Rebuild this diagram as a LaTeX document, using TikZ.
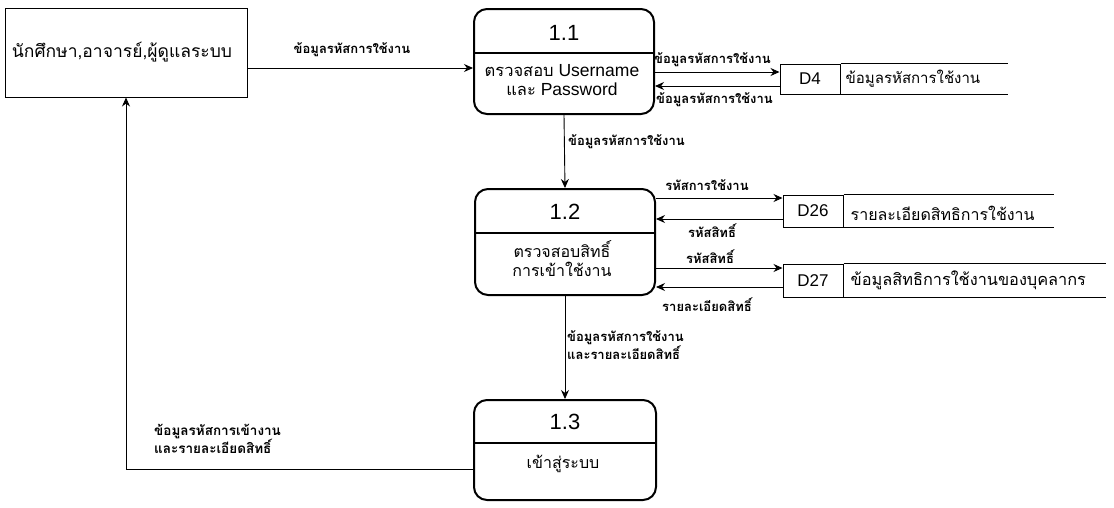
\documentclass[tikz,border=0pt]{standalone}
\usepackage{fontspec}
\setmainfont{Liberation Sans}
\newfontfamily\thaif[Script=Thai]{Loma}
\usetikzlibrary{arrows.meta,calc}
\begin{document}
\begin{tikzpicture}[x=1pt,y=-1pt,
  proc/.style={draw,line width=2pt,rounded corners=13pt,inner sep=0pt},
  ent/.style={draw,line width=1pt,inner sep=0pt},
  sid/.style={draw,line width=1pt,inner sep=0pt,font=\fontsize{17}{17}\selectfont},
  flow/.style={line width=0.9pt,-{Stealth[length=9pt,width=8pt]}},
  lbl/.style={font=\thaif\bfseries\fontsize{13}{14}\selectfont,inner sep=1pt},
  ptitle/.style={font=\fontsize{22}{22}\selectfont,inner sep=0pt},
  ptext/.style={font=\fontsize{17.5}{19}\selectfont,align=center,inner sep=0pt},
  stext/.style={font=\thaif\fontsize{16}{16}\selectfont,anchor=west,inner sep=0pt}]
\useasboundingbox (0,0) rectangle (1114,507);

% external entity
\node[ent,minimum width=242pt,minimum height=89pt] (ent) at (126,52.5) {};
\node[font=\thaif\fontsize{17.5}{17.5}\selectfont] (entt) at (122,52) {นักศึกษา,อาจารย์,ผู้ดูแลระบบ};

% processes
\node[proc,minimum width=180pt,minimum height=105pt] (p1) at (564,61.5) {};
\draw[line width=1.8pt] (p1.west |- 0,53) coordinate (p1l) -- (p1.east |- 0,53) coordinate (p1r);
\node[ptitle] (p1t) at (564,33) {1.1};
\node[ptext] (p1x) at (562,80) {{\thaif\fontsize{16.5}{19}\selectfont ตรวจสอบ} Username\\{\thaif\fontsize{16.5}{19}\selectfont และ} Password};

\node[proc,minimum width=180pt,minimum height=106pt] (p2) at (565,242) {};
\draw[line width=1.8pt] (p2.west |- 0,233) coordinate (p2l) -- (p2.east |- 0,233) coordinate (p2r);
\node[ptitle] (p2t) at (565,212) {1.2};
\node[ptext] (p2x) at (562,259) {\thaif\fontsize{16}{21}\selectfont ตรวจสอบสิทธิ์\\\thaif\fontsize{16}{21}\selectfont การเข้าใช้งาน};

\node[proc,minimum width=182pt,minimum height=100pt] (p3) at (565,450) {};
\draw[line width=1.8pt] (p3.west |- 0,443) coordinate (p3l) -- (p3.east |- 0,443) coordinate (p3r);
\node[ptitle] (p3t) at (565,422) {1.3};
\node[ptext] (p3x) at (563,464) {\thaif\fontsize{16}{19}\selectfont เข้าสู่ระบบ};

% data stores
\node[sid,minimum width=60pt,minimum height=30pt] (s4) at (810,79) {D4};
\draw[line width=1pt] (s4.north east) -- ++(167,0) coordinate (s4e1);
\draw[line width=1pt] (s4.south east) -- ++(167,0) coordinate (s4e2);
\node[stext,font=\thaif\fontsize{15}{15}\selectfont] (s4t) at ($(s4.east)+(5pt,0)$) {ข้อมูลรหัสการใช้งาน};

\node[sid,minimum width=60pt,minimum height=32pt] (s26) at (813,211) {D26};
\draw[line width=1pt] (s26.north east) -- ++(210,0) coordinate (s26e1);
\draw[line width=1pt] (s26.south east) -- ++(210,0) coordinate (s26e2);
\node[stext] (s26t) at ($(s26.east)+(7pt,-2pt)$) {รายละเอียดสิทธิการใช้งาน};

\node[sid,minimum width=60pt,minimum height=33pt] (s27) at (813,280.5) {D27};
\draw[line width=1pt] (s27.north east) -- ++(262,0) coordinate (s27e1);
\draw[line width=1pt] (s27.south east) -- ++(262,0) coordinate (s27e2);
\node[stext,font=\thaif\fontsize{16.3}{16}\selectfont] (s27t) at ($(s27.east)+(7pt,0)$) {ข้อมูลสิทธิการใช้งานของบุคลากร};

% flows
\draw[flow] ($(ent.east)+(0,-15.5pt)$) -- ($(p1.west)+(0,-6.5pt)$);
\node[lbl] (l1) at (352,50) {ข้อมูลรหัสการใช้งาน};

\draw[flow] ($(p1.east |- s4.west)+(0,7pt)$) -- ($(s4.west)+(0,7pt)$);
\node[lbl,anchor=west] (l2) at (653,60) {ข้อมูลรหัสการใช้งาน};
\draw[flow] ($(s4.west)+(0,-7pt)$) -- ($(p1.east |- s4.west)+(0,-7pt)$);
\node[lbl,anchor=west] (l3) at (655,100) {ข้อมูลรหัสการใช้งาน};

\draw[flow] (p1.south) -- (p2.north);
\node[lbl,anchor=west] (l4) at (567,142) {ข้อมูลรหัสการใช้งาน};

\draw[flow] ($(p2.east |- s26.west)+(0,13pt)$) -- ($(s26.west)+(0,13pt)$);
\node[lbl] (l5) at (707,185) {รหัสการใช้งาน};
\draw[flow] ($(s26.west)+(0,-8pt)$) -- ($(p2.east |- s26.west)+(0,-8pt)$);
\node[lbl] (l6) at (712,231) {รหัสสิทธิ์};

\draw[flow] ($(p2.east |- s27.west)+(0,12.5pt)$) -- ($(s27.west)+(0,12.5pt)$);
\node[lbl] (l7) at (710,257) {รหัสสิทธิ์};
\draw[flow] ($(s27.west)+(0,-6.5pt)$) -- ($(p2.east |- s27.west)+(0,-6.5pt)$);
\node[lbl] (l8) at (707,305) {รายละเอียดสิทธิ์};

\draw[flow] (p2.south) -- (p3.north);
\node[lbl,anchor=west,align=left,font=\thaif\bfseries\fontsize{13}{15}\selectfont] (l9) at (566,345) {ข้อมูลรหัสการใช้งาน\\และรายละเอียดสิทธิ์};

\draw[flow] ($(p3.west)+(0,-19pt)$) -| (ent.south);
\node[lbl,anchor=west,align=left,font=\thaif\bfseries\fontsize{13.5}{16}\selectfont] (l10) at (153,439) {ข้อมูลรหัสการเข้างาน\\และรายละเอียดสิทธิ์};
\end{tikzpicture}
\end{document}
